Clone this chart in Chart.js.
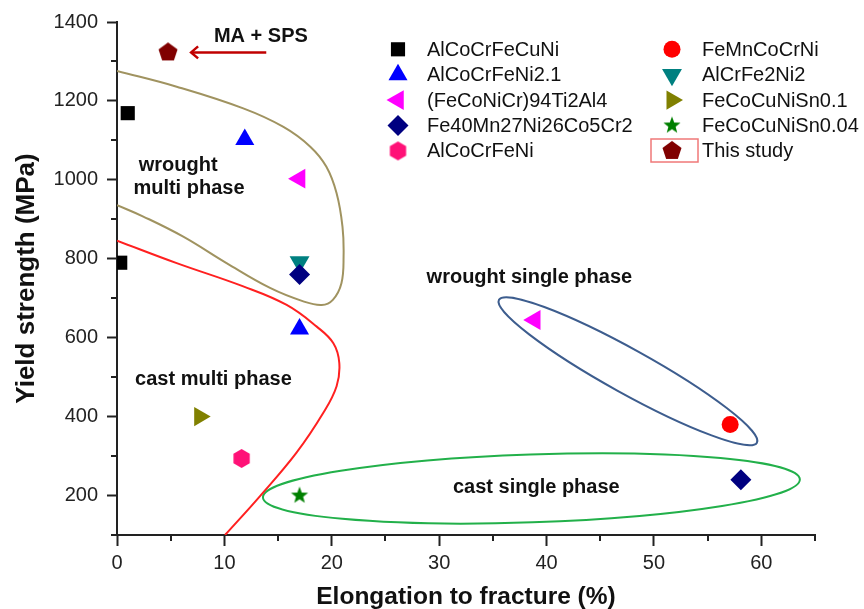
<!DOCTYPE html>
<html><head><meta charset="utf-8">
<script src="https://cdn.jsdelivr.net/npm/chart.js@4.4.0/dist/chart.umd.min.js"></script>
<style>html,body{margin:0;padding:0;background:#fff;}</style>
</head><body>
<canvas id="c" width="864" height="609"></canvas>
<script>
// ---------- axis ticks ----------
const xTicks = [0, 10, 20, 30, 40, 50, 60];
const xMinor = [5, 15, 25, 35, 45, 55, 65];
const yTicks = [200, 400, 600, 800, 1000, 1200, 1400];
const yMinor = [100, 300, 500, 700, 900, 1100, 1300];

// ---------- series (elongation %, yield strength MPa) ----------
const seriesLabels = ['AlCoCrFeCuNi', 'AlCoCrFeNi2.1', '(FeCoNiCr)94Ti2Al4', 'Fe40Mn27Ni26Co5Cr2', 'AlCoCrFeNi',
                      'FeMnCoCrNi', 'AlCrFe2Ni2', 'FeCoCuNiSn0.1', 'FeCoCuNiSn0.04', 'This study'];
const sAlCoCrFeCuNi     = [{x: 1.0, y: 1169}, {x: 0.3, y: 790}];
const sAlCoCrFeNi21     = [{x: 11.9, y: 1102}, {x: 17.0, y: 622}];
const sFeCoNiCrTiAl     = [{x: 17.0, y: 1003}, {x: 38.9, y: 645}];
const sFe40Mn27         = [{x: 17.0, y: 760}, {x: 58.1, y: 240}];
const sAlCoCrFeNi       = [{x: 11.6, y: 294}];
const sFeMnCoCrNi       = [{x: 57.1, y: 380}];
const sAlCrFe2Ni2       = [{x: 17.0, y: 792}];
const sFeCoCuNiSn01     = [{x: 7.7, y: 400}];
const sFeCoCuNiSn004    = [{x: 17.0, y: 200}];
const sThisStudy        = [{x: 4.75, y: 1323}];

// ---------- boundary curves ----------
const wroughtMultiCurve = [
  {x: 0, y: 1276}, {x: 5.56, y: 1236}, {x: 11.76, y: 1181}, {x: 15.5, y: 1134}, {x: 18.0, y: 1084},
  {x: 19.5, y: 1033}, {x: 20.45, y: 966}, {x: 21.0, y: 881}, {x: 21.1, y: 806}, {x: 20.9, y: 738},
  {x: 20.1, y: 696}, {x: 19.06, y: 683}, {x: 17.35, y: 692}, {x: 14.25, y: 726}, {x: 10.2, y: 789},
  {x: 6.17, y: 856}, {x: 2.45, y: 907}, {x: 0, y: 936}];
const castMultiCurve = [
  {x: 0, y: 846}, {x: 5.56, y: 789}, {x: 11.76, y: 730}, {x: 15.8, y: 683}, {x: 18.6, y: 628},
  {x: 20.15, y: 586}, {x: 20.7, y: 536}, {x: 20.45, y: 477}, {x: 19.2, y: 409}, {x: 16.7, y: 308},
  {x: 13.3, y: 198}, {x: 10.06, y: 100}];
// ellipses: two tips of the long axis + one point at the end of the short axis
const wroughtSingleEllipse = [{x: 35.57, y: 696}, {x: 59.59, y: 334}, {x: 48.58, y: 564}];
const castSingleEllipse    = [{x: 13.59, y: 195}, {x: 63.59, y: 241}, {x: 38.49, y: 304}];

// ---------- annotation text anchors (data coords) ----------
const notes = [
  {text: 'MA + SPS', x: 13.4, y: 1364},
  {text: 'wrought', x: 5.7, y: 1037},
  {text: 'multi phase', x: 6.7, y: 979},
  {text: 'cast multi phase', x: 8.98, y: 494},
  {text: 'wrought single phase', x: 38.4, y: 752},
  {text: 'cast single phase', x: 39.05, y: 220}
];
const arrowFrom = {x: 13.9, y: 1323};
const arrowTo = {x: 6.9, y: 1323};

const FONT = "'Liberation Sans', Arial, Helvetica, sans-serif";

function polyCanvas(n, r, color, inner) {
  const s = Math.ceil(2 * r + 2);
  const c = document.createElement('canvas');
  c.width = s; c.height = s;
  const g = c.getContext('2d');
  g.fillStyle = color;
  g.beginPath();
  const cnt = inner ? n * 2 : n;
  for (let i = 0; i < cnt; i++) {
    const a = -Math.PI / 2 + i * 2 * Math.PI / cnt;
    const rr = inner ? (i % 2 === 0 ? r : r * inner) : r;
    const px = s / 2 + rr * Math.cos(a), py = s / 2 + rr * Math.sin(a);
    if (i === 0) g.moveTo(px, py); else g.lineTo(px, py);
  }
  g.closePath();
  g.fill();
  return c;
}
const hexImg = polyCanvas(6, 9.4, '#ff1177');
const pentImg = polyCanvas(5, 10, '#800000');
const starImg = polyCanvas(5, 9, '#008000', 0.42);

function pt(label, data, style, radius, color, rotation) {
  return {label: label, data: data, pointStyle: style, pointRadius: radius, pointHoverRadius: radius,
          pointRotation: rotation || 0, pointBackgroundColor: color, backgroundColor: color,
          pointBorderWidth: 0, borderWidth: 0, showLine: false, legendItem: true};
}
function curve(data, color) {
  return {label: '', data: data, showLine: true, pointRadius: 0, pointHoverRadius: 0, borderColor: color,
          borderWidth: 2, tension: 0.4, fill: false, legendItem: false};
}

const datasets = [
  pt(seriesLabels[0], sAlCoCrFeCuNi, 'rect', 10, '#000000'),
  pt(seriesLabels[1], sAlCoCrFeNi21, 'triangle', 11, '#0000ff'),
  pt(seriesLabels[2], sFeCoNiCrTiAl, 'triangle', 11.5, '#ff00ff', -90),
  pt(seriesLabels[3], sFe40Mn27, 'rectRot', 10.5, '#000080'),
  pt(seriesLabels[4], sAlCoCrFeNi, hexImg, 9, '#ff1177'),
  pt(seriesLabels[5], sFeMnCoCrNi, 'circle', 8.5, '#ff0000'),
  pt(seriesLabels[6], sAlCrFe2Ni2, 'triangle', 11.5, '#008080', 180),
  pt(seriesLabels[7], sFeCoCuNiSn01, 'triangle', 11, '#808000', 90),
  pt(seriesLabels[8], sFeCoCuNiSn004, starImg, 9, '#008000'),
  pt(seriesLabels[9], sThisStudy, pentImg, 10, '#800000'),
  curve(wroughtMultiCurve, '#a09360'),
  curve(castMultiCurve, '#ff2020')
];

const extras = {
  id: 'extras',
  beforeDatasetsDraw(chart) {
    const {ctx, chartArea: ca, scales: {x, y}} = chart;
    ctx.save();
    ctx.beginPath(); ctx.rect(ca.left, ca.top, ca.right - ca.left, ca.bottom - ca.top); ctx.clip();
    [[wroughtSingleEllipse, '#3d5d8e'], [castSingleEllipse, '#22b04a']].forEach(([e, col]) => {
      const p = e.map(q => ({x: x.getPixelForValue(q.x), y: y.getPixelForValue(q.y)}));
      const cx = (p[0].x + p[1].x) / 2, cy = (p[0].y + p[1].y) / 2;
      const dx = p[1].x - p[0].x, dy = p[1].y - p[0].y;
      const len = Math.hypot(dx, dy);
      const a = len / 2, ang = Math.atan2(dy, dx);
      const nx = -dy / len, ny = dx / len;
      const b = Math.abs((p[2].x - cx) * nx + (p[2].y - cy) * ny);
      ctx.beginPath();
      ctx.ellipse(cx, cy, a, b, ang, 0, Math.PI * 2);
      ctx.strokeStyle = col; ctx.lineWidth = 2; ctx.stroke();
    });
    ctx.restore();
  },
  afterDraw(chart) {
    const {ctx, chartArea: ca, scales: {x, y}} = chart;
    ctx.save();
    // minor ticks
    ctx.strokeStyle = '#222'; ctx.lineWidth = 2;
    xMinor.forEach(v => {
      const px = Math.round(x.getPixelForValue(v));
      ctx.beginPath(); ctx.moveTo(px, ca.bottom); ctx.lineTo(px, ca.bottom + 6); ctx.stroke();
    });
    yMinor.forEach(v => {
      const py = Math.round(y.getPixelForValue(v));
      ctx.beginPath(); ctx.moveTo(ca.left, py); ctx.lineTo(ca.left - 6, py); ctx.stroke();
    });
    // annotations
    ctx.fillStyle = '#111';
    ctx.font = 'bold 20px ' + FONT;
    ctx.textAlign = 'center'; ctx.textBaseline = 'middle';
    notes.forEach(n => ctx.fillText(n.text, x.getPixelForValue(n.x), y.getPixelForValue(n.y)));
    // arrow
    const ax0 = x.getPixelForValue(arrowFrom.x), ay = y.getPixelForValue(arrowFrom.y);
    const ax1 = x.getPixelForValue(arrowTo.x);
    ctx.strokeStyle = '#c00000'; ctx.lineWidth = 2.5;
    ctx.beginPath(); ctx.moveTo(ax0, ay); ctx.lineTo(ax1 + 1, ay); ctx.stroke();
    ctx.beginPath(); ctx.moveTo(ax1 + 7, ay - 6); ctx.lineTo(ax1, ay); ctx.lineTo(ax1 + 7, ay + 6); ctx.stroke();
    // legend
    const cols = [{mx: 398, tx: 427}, {mx: 672, tx: 702}];
    const items = chart.data.datasets.filter(d => d.legendItem);
    ctx.font = '20px ' + FONT; ctx.textAlign = 'left'; ctx.textBaseline = 'middle';
    items.forEach((d, i) => {
      const col = cols[Math.floor(i / 5)];
      const yy = 49.3 + (i % 5) * 25.4;
      ctx.fillStyle = d.pointBackgroundColor;
      Chart.helpers.drawPoint(ctx, {pointStyle: d.pointStyle, radius: d.pointRadius, rotation: d.pointRotation, borderWidth: 0}, col.mx, yy);
      ctx.fillStyle = '#111';
      ctx.fillText(d.label, col.tx, yy + 1);
      if (d.label === 'This study') {
        ctx.strokeStyle = '#f07878'; ctx.lineWidth = 1.5;
        ctx.strokeRect(651, 139, 47, 23);
      }
    });
    ctx.restore();
  }
};

new Chart(document.getElementById('c'), {
  type: 'scatter',
  data: {datasets: datasets},
  plugins: [extras],
  options: {
    responsive: false,
    animation: false,
    events: [],
    layout: {padding: {left: 0, right: 49, top: 22, bottom: 0}},
    plugins: {legend: {display: false}, tooltip: {enabled: false}},
    scales: {
      x: {
        type: 'linear', min: 0, max: 65,
        afterBuildTicks: s => { s.ticks = xTicks.map(v => ({value: v})); },
        afterFit: s => { s.height = 74; },
        grid: {drawOnChartArea: false, drawTicks: true, tickLength: 11, tickColor: '#222', tickWidth: 2},
        border: {display: true, color: '#222', width: 2},
        ticks: {color: '#222', font: {family: FONT, size: 20}, padding: 5, maxRotation: 0,
                callback: v => String(v)},
        title: {display: true, text: 'Elongation to fracture (%)', color: '#111',
                font: {family: FONT, size: 24.5, weight: 'bold', lineHeight: 1}, padding: {top: 0, bottom: 0}}
      },
      y: {
        type: 'linear', min: 100, max: 1400,
        afterBuildTicks: s => { s.ticks = yTicks.map(v => ({value: v})); },
        afterFit: s => { s.width = 117; },
        grid: {drawOnChartArea: false, drawTicks: true, tickLength: 10, tickColor: '#222', tickWidth: 2},
        border: {display: true, color: '#222', width: 2},
        ticks: {color: '#222', font: {family: FONT, size: 20}, padding: 9, callback: v => String(v)},
        title: {display: true, text: 'Yield strength (MPa)', color: '#111',
                font: {family: FONT, size: 26, weight: 'bold', lineHeight: 1}, padding: {top: 14, bottom: 0}}
      }
    }
  }
});
</script>
</body></html>
